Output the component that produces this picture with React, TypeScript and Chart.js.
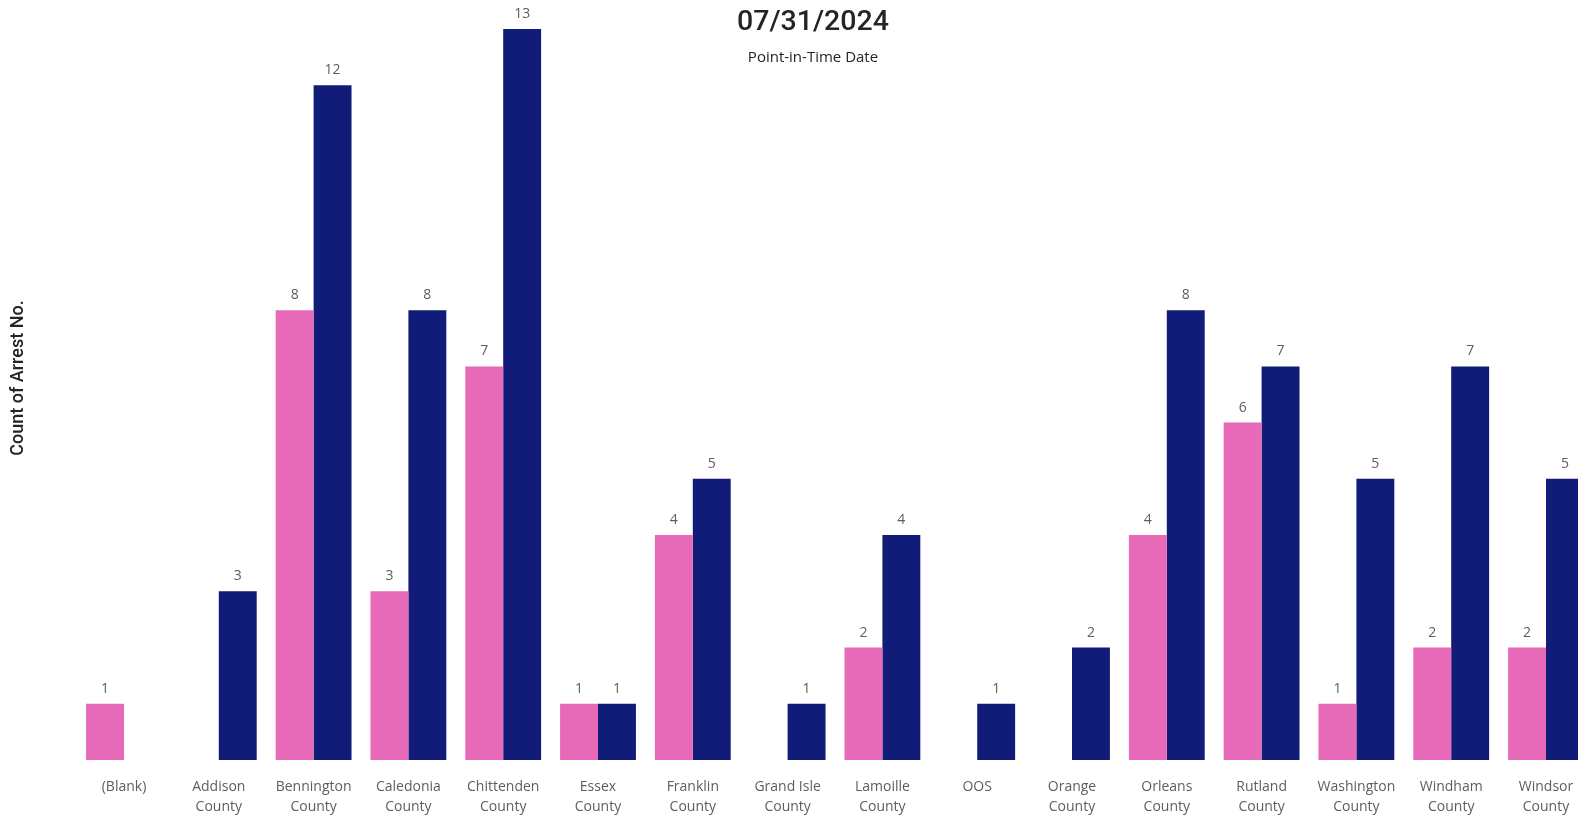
import React, { useEffect, useRef } from "react";
import { Chart, registerables } from "chart.js";

Chart.register(...registerables);

const categories: string[][] = [
  ["(Blank)"],
  ["Addison", "County"],
  ["Bennington", "County"],
  ["Caledonia", "County"],
  ["Chittenden", "County"],
  ["Essex", "County"],
  ["Franklin", "County"],
  ["Grand Isle", "County"],
  ["Lamoille", "County"],
  ["OOS"],
  ["Orange", "County"],
  ["Orleans", "County"],
  ["Rutland", "County"],
  ["Washington", "County"],
  ["Windham", "County"],
  ["Windsor", "County"],
];

const pinkValues: (number | null)[] = [1, null, 8, 3, 7, 1, 4, null, 2, null, null, 4, 6, 1, 2, 2];
const navyValues: (number | null)[] = [null, 3, 12, 8, 13, 1, 5, 1, 4, 1, 2, 8, 7, 5, 7, 5];

const titleText = "07/31/2024";
const subtitleText = "Point-in-Time Date";
const yTitle = "Count of Arrest No.";

const PINK = "#E66AB7";
const NAVY = "#111B78";

const labelPlugin = {
  id: "valueLabels",
  afterDatasetsDraw(chart: any) {
    const ctx = chart.ctx;
    ctx.save();
    ctx.font = '14px "Open Sans", sans-serif';
    ctx.fillStyle = "#605E5C";
    ctx.textAlign = "center";
    ctx.textBaseline = "middle";
    chart.data.datasets.forEach((ds: any, i: number) => {
      const meta = chart.getDatasetMeta(i);
      meta.data.forEach((bar: any, j: number) => {
        const v = ds.data[j];
        if (v === null || v === undefined) return;
        ctx.fillText(String(v), bar.x, bar.y - 15);
      });
    });
    ctx.restore();
  },
};

const titlePlugin = {
  id: "customTitle",
  afterDraw(chart: any) {
    const ctx = chart.ctx;
    ctx.save();
    ctx.textAlign = "center";
    ctx.textBaseline = "middle";
    ctx.fillStyle = "#252423";
    ctx.font = '500 28.5px "Roboto", sans-serif';
    ctx.fillText(titleText, 805, 15);
    ctx.font = '15px "Open Sans", sans-serif';
    ctx.fillText(subtitleText, 805, 50);
    ctx.translate(10, 370);
    ctx.rotate(-Math.PI / 2);
    ctx.font = '500 18px "Roboto", sans-serif';
    ctx.fillText(yTitle, 0, 0);
    ctx.restore();
  },
};

export default function App() {
  const ref = useRef<HTMLCanvasElement | null>(null);
  useEffect(() => {
    if (!ref.current) return;
    const chart = new Chart(ref.current, {
      type: "bar",
      data: {
        labels: categories,
        datasets: [
          {
            data: pinkValues,
            backgroundColor: PINK,
            categoryPercentage: 0.8,
            barPercentage: 1.0,
            clip: false,
          },
          {
            data: navyValues,
            backgroundColor: NAVY,
            categoryPercentage: 0.8,
            barPercentage: 1.0,
            clip: false,
          },
        ],
      },
      options: {
        animation: false,
        responsive: true,
        maintainAspectRatio: false,
        layout: { padding: { top: 21, right: 32, left: 116, bottom: 0 } },
        plugins: {
          legend: { display: false },
          tooltip: { enabled: false },
          title: { display: false },
        },
        scales: {
          x: {
            offset: false,
            grid: { display: false },
            border: { display: false },
            ticks: {
              color: "#605E5C",
              font: { family: '"Open Sans", sans-serif', size: 14, lineHeight: 1.43 },
              maxRotation: 0,
              autoSkip: false,
              padding: 9,
            },
            afterFit(scale: any) {
              scale.height = 57;
              scale.paddingLeft = 0;
              scale.paddingRight = 0;
            },
          },
          y: {
            display: false,
            min: 0,
            max: 13,
          },
        },
      },
      plugins: [labelPlugin, titlePlugin],
    } as any);
    return () => chart.destroy();
  }, []);
  return (
    <div style={{ width: 1570, height: 809, position: "relative" }}>
      <canvas ref={ref} />
    </div>
  );
}
